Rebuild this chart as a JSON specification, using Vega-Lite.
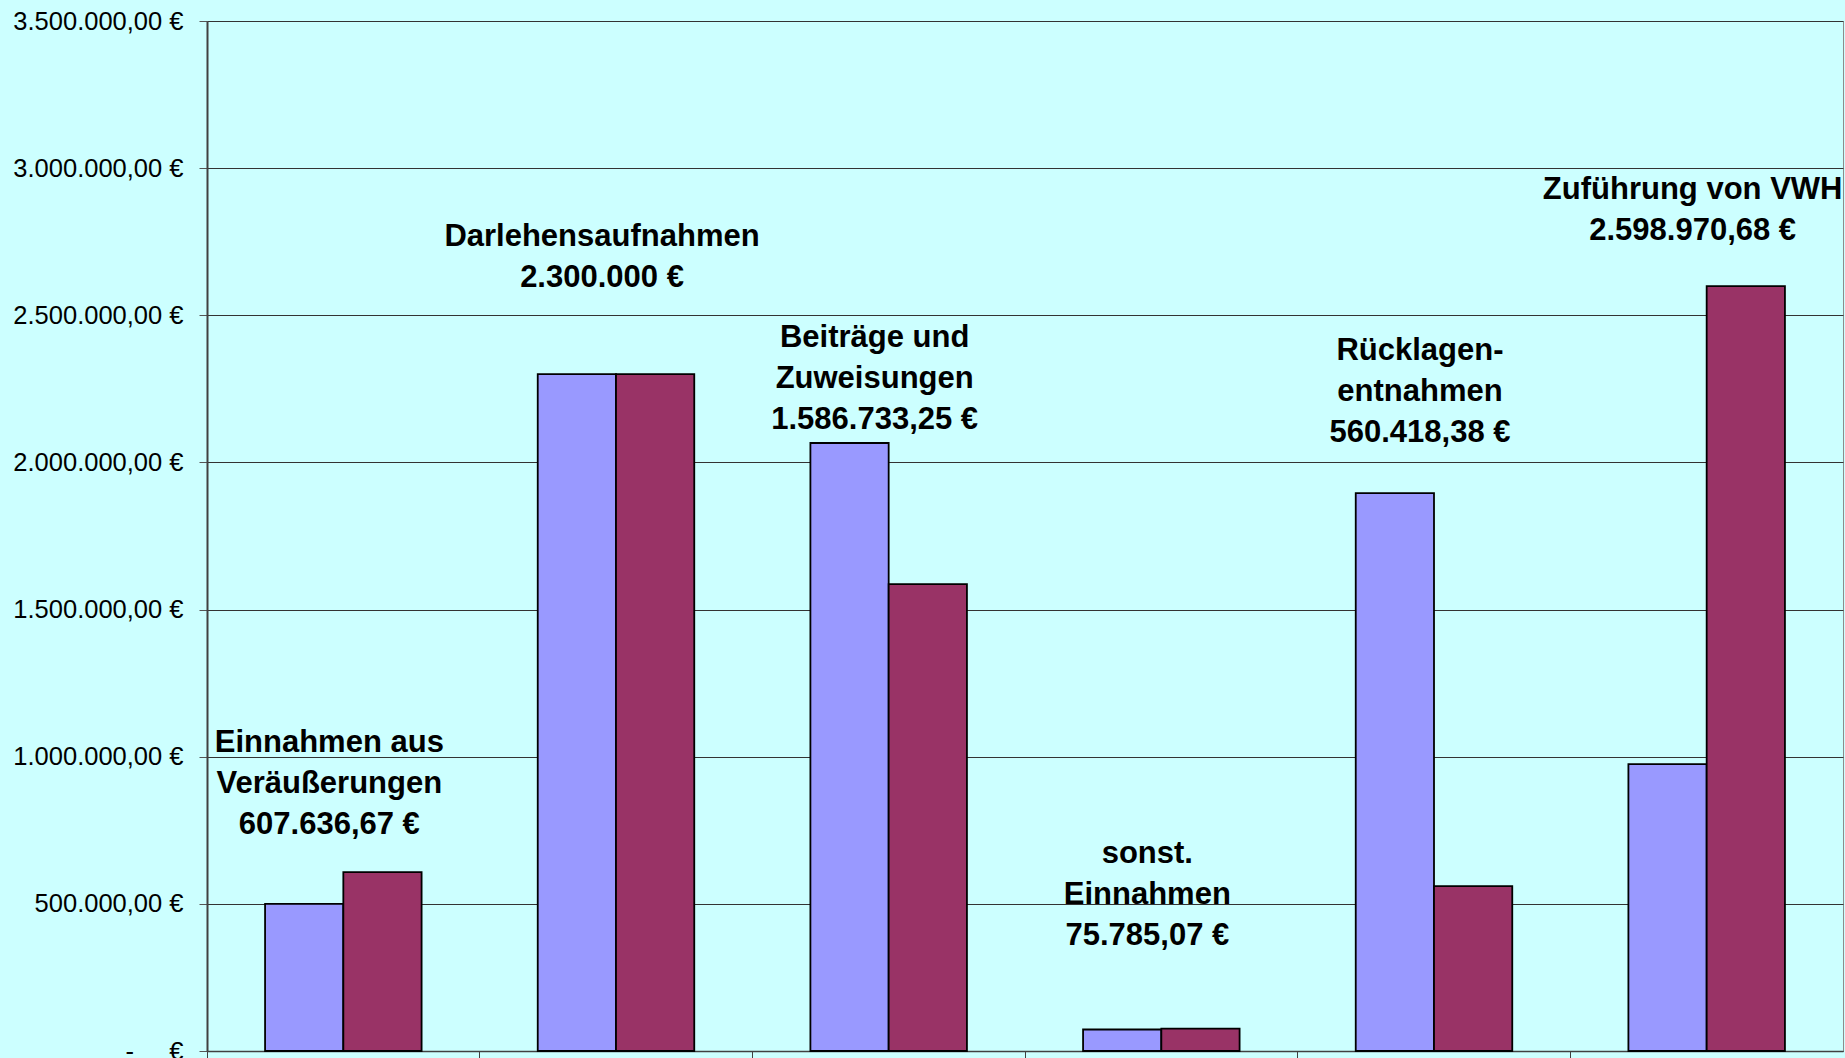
{
  "$schema": "https://vega.github.io/schema/vega-lite/v6.json",
  "autosize": "none",
  "width": 1636,
  "height": 1030,
  "padding": {"left": 207, "top": 21, "right": 2, "bottom": 7},
  "background": "#CCFFFF",
  "datasets": {
    "bars": [
      {"cat": "Einnahmen aus Veräußerungen", "serie": "Serie 1", "betrag": 500000},
      {"cat": "Einnahmen aus Veräußerungen", "serie": "Serie 2", "betrag": 607636.67},
      {"cat": "Darlehensaufnahmen", "serie": "Serie 1", "betrag": 2300000},
      {"cat": "Darlehensaufnahmen", "serie": "Serie 2", "betrag": 2300000},
      {"cat": "Beiträge und Zuweisungen", "serie": "Serie 1", "betrag": 2066000},
      {"cat": "Beiträge und Zuweisungen", "serie": "Serie 2", "betrag": 1586733.25},
      {"cat": "sonst. Einnahmen", "serie": "Serie 1", "betrag": 73000},
      {"cat": "sonst. Einnahmen", "serie": "Serie 2", "betrag": 75785.07},
      {"cat": "Rücklagenentnahmen", "serie": "Serie 1", "betrag": 1896000},
      {"cat": "Rücklagenentnahmen", "serie": "Serie 2", "betrag": 560418.38},
      {"cat": "Zuführung von VWH", "serie": "Serie 1", "betrag": 975000},
      {"cat": "Zuführung von VWH", "serie": "Serie 2", "betrag": 2598970.68}
    ],
    "labels": [
      {"cat": "Einnahmen aus Veräußerungen", "text": "Einnahmen aus\nVeräußerungen\n607.636,67 €", "labelY": 1099000},
      {"cat": "Darlehensaufnahmen", "text": "Darlehensaufnahmen\n2.300.000 €", "labelY": 2817000},
      {"cat": "Beiträge und Zuweisungen", "text": "Beiträge und\nZuweisungen\n1.586.733,25 €", "labelY": 2475000},
      {"cat": "sonst. Einnahmen", "text": "sonst.\nEinnahmen\n75.785,07 €", "labelY": 719000},
      {"cat": "Rücklagenentnahmen", "text": "Rücklagen-\nentnahmen\n560.418,38 €", "labelY": 2430000},
      {"cat": "Zuführung von VWH", "text": "Zuführung von VWH\n2.598.970,68 €", "labelY": 2977000}
    ]
  },
  "layer": [
    {
      "data": {"name": "bars"},
      "mark": {"type": "bar", "stroke": "#000000", "strokeWidth": 1.8},
      "encoding": {
        "x": {
          "field": "cat",
          "type": "nominal",
          "scale": {
            "domain": ["Einnahmen aus Veräußerungen", "Darlehensaufnahmen", "Beiträge und Zuweisungen", "sonst. Einnahmen", "Rücklagenentnahmen", "Zuführung von VWH"],
            "paddingInner": 0,
            "paddingOuter": 0
          },
          "axis": {
            "title": null,
            "labels": false,
            "bandPosition": 0,
            "domainColor": "#404040",
            "domainWidth": 1.5,
            "tickColor": "#404040",
            "tickWidth": 1,
            "tickSize": 10,
            "grid": false
          }
        },
        "xOffset": {
          "field": "serie",
          "type": "nominal",
          "scale": {"paddingInner": 0, "paddingOuter": 0.742}
        },
        "y": {
          "field": "betrag",
          "type": "quantitative",
          "scale": {"domain": [0, 3500000], "nice": false},
          "axis": {
            "title": null,
            "values": [0, 500000, 1000000, 1500000, 2000000, 2500000, 3000000, 3500000],
            "format": ",.2f",
            "labelExpr": "datum.value == 0 ? '-\u00a0\u00a0\u00a0\u00a0\u00a0€' : datum.label + ' €'",
            "labelFont": "Liberation Sans",
            "labelFontSize": 25.5,
            "labelColor": "#000000",
            "labelPadding": 16,
            "tickSize": 8,
            "tickColor": "#555555",
            "domainColor": "#404040",
            "domainWidth": 2,
            "grid": true,
            "gridColor": "#333333",
            "gridWidth": 1
          }
        },
        "color": {
          "field": "serie",
          "type": "nominal",
          "scale": {"domain": ["Serie 1", "Serie 2"], "range": ["#9999FF", "#993366"]},
          "legend": null
        }
      }
    },
    {
      "data": {"name": "labels"},
      "mark": {
        "type": "text",
        "font": "Liberation Sans",
        "fontWeight": "bold",
        "fontSize": 31,
        "lineHeight": 41,
        "lineBreak": "\n",
        "baseline": "top",
        "align": "center",
        "dx": -14,
        "color": "#000000"
      },
      "encoding": {
        "x": {"field": "cat", "type": "nominal", "axis": {"title": null}},
        "y": {"field": "labelY", "type": "quantitative", "axis": {"title": null}},
        "text": {"field": "text", "type": "nominal"}
      }
    }
  ],
  "config": {
    "locale": {"number": {"decimal": ",", "thousands": ".", "grouping": [3], "currency": ["", " €"]}},
    "view": {"stroke": "#8c8c8c", "strokeWidth": 1}
  }
}
